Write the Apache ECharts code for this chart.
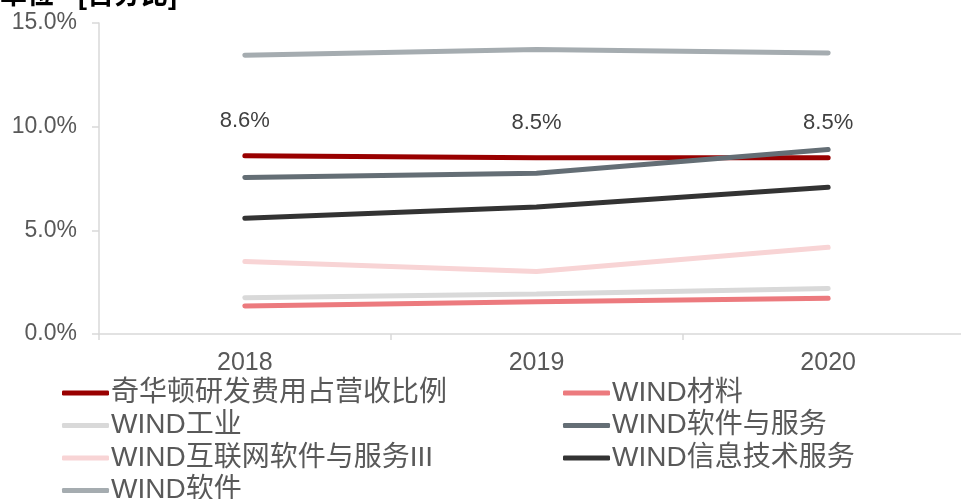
<!DOCTYPE html>
<html>
<head>
<meta charset="utf-8">
<script src="https://cdn.jsdelivr.net/npm/echarts@6/dist/echarts.min.js"></script>
<style>
html, body { margin: 0; padding: 0; background: #fff; }
#chart-area { width: 961px; height: 499px; }
</style>
</head>
<body>
<div id="chart-area"></div>
<script>
// 年份与各序列数据（%）
const years = ['2018', '2019', '2020'];
const givaudan = [8.6, 8.5, 8.5];
const windMaterials = [1.35, 1.55, 1.72];
const windIndustry = [1.75, 1.93, 2.2];
const windSoftwareServices = [7.55, 7.75, 8.9];
const windInternet = [3.5, 3.02, 4.18];
const windITServices = [5.58, 6.12, 7.08];
const windSoftware = [13.45, 13.72, 13.55];
const yTicks = [0, 5, 10, 15];

const font = '"Liberation Sans", "Noto Sans CJK SC", sans-serif';

const makeLine = (name, data, color, extra) => Object.assign({
	name: name,
	type: 'line',
	data: data,
	symbol: 'circle',
	symbolSize: 0,
	lineStyle: { width: 5, color: color, cap: 'round' },
	itemStyle: { color: color }
}, extra || {});

const series = [
	makeLine('奇华顿研发费用占营收比例', givaudan, '#990000', {
		label: {
			show: true,
			position: 'top',
			distance: 24,
			fontSize: 22,
			fontFamily: font,
			color: '#404040',
			formatter: (p) => p.value.toFixed(1) + '%'
		}
	}),
	makeLine('WIND材料', windMaterials, '#EC7A7E'),
	makeLine('WIND工业', windIndustry, '#D9D9D9'),
	makeLine('WIND软件与服务', windSoftwareServices, '#646E75'),
	makeLine('WIND互联网软件与服务III', windInternet, '#F8D4D5'),
	makeLine('WIND信息技术服务', windITServices, '#333333'),
	makeLine('WIND软件', windSoftware, '#A5ACB0')
];

const legendBase = {
	orient: 'vertical',
	icon: 'roundRect',
	itemWidth: 47,
	itemHeight: 5,
	itemGap: 4.5,
	padding: 0,
	height: 160,
	textStyle: { fontSize: 28, lineHeight: 28, color: '#595959', fontFamily: font, padding: [0, 0, 0, -3] }
};

const myChart = echarts.init(document.getElementById('chart-area'));
const option = {
	animation: false,
	title: {
		text: '单位 - [百分比]',
		left: 0,
		top: -17,
		padding: 0,
		textStyle: { fontSize: 27, fontWeight: 'bold', color: '#000', fontFamily: font }
	},
	legend: [
		Object.assign({}, legendBase, {
			left: 62,
			top: 379,
			data: ['奇华顿研发费用占营收比例', 'WIND工业', 'WIND互联网软件与服务III', 'WIND软件']
		}),
		Object.assign({}, legendBase, {
			left: 563,
			top: 379,
			data: ['WIND材料', 'WIND软件与服务', 'WIND信息技术服务']
		})
	],
	grid: {
		left: 99,
		top: 23,
		width: 875,
		height: 311,
		outerBoundsMode: 'none'
	},
	xAxis: {
		type: 'category',
		data: years,
		boundaryGap: true,
		axisLine: { lineStyle: { color: '#D9D9D9', width: 1.5 } },
		axisTick: { show: true, length: 6, lineStyle: { color: '#D9D9D9', width: 1.5 } },
		axisLabel: { fontSize: 25, color: '#595959', fontFamily: font, margin: 17 }
	},
	yAxis: {
		type: 'value',
		min: yTicks[0],
		max: yTicks[yTicks.length - 1],
		interval: 5,
		splitLine: { show: false },
		axisLine: { show: true, lineStyle: { color: '#D9D9D9', width: 1.5 } },
		axisTick: { show: true, length: 7, lineStyle: { color: '#D9D9D9', width: 1.5 } },
		axisLabel: {
			fontSize: 23,
			color: '#595959',
			fontFamily: font,
			margin: 22,
			formatter: (v) => v.toFixed(1) + '%'
		}
	},
	series: series
};
option && myChart.setOption(option);
</script>
</body>
</html>
